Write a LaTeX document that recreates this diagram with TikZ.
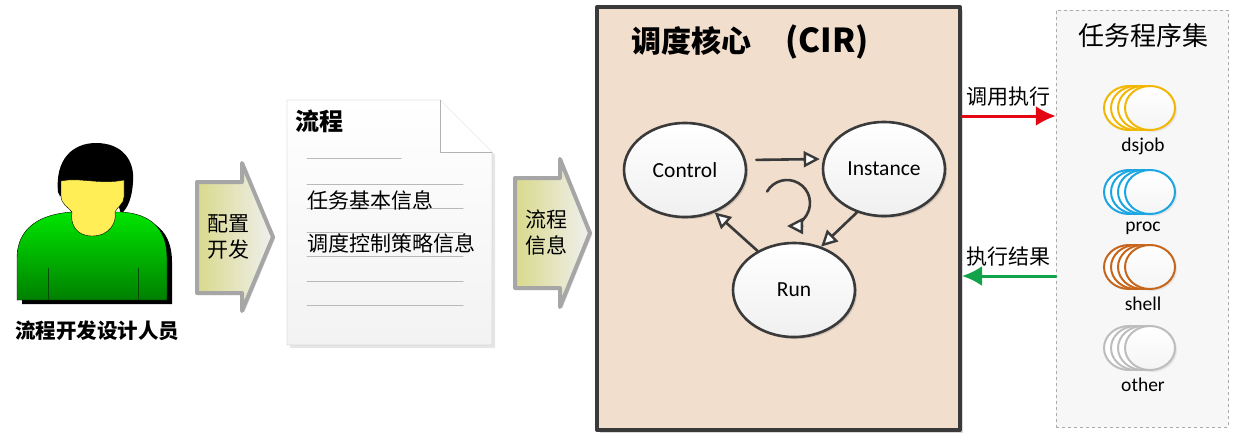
\documentclass[tikz,border=0pt]{standalone}
\usepackage{fontspec}
\setmainfont{Carlito}
\newfontfamily\cjk{Noto Sans CJK SC}
\usetikzlibrary{arrows.meta, shapes.geometric, shadows}

\definecolor{corefill}{HTML}{F1DECD}
\definecolor{coreedge}{HTML}{3A3A3A}
\definecolor{jobyellow}{HTML}{F2B705}
\definecolor{jobblue}{HTML}{1BA6E2}
\definecolor{joborange}{HTML}{C6661C}
\definecolor{jobgray}{HTML}{BDBDBD}
\definecolor{callred}{HTML}{E30613}
\definecolor{backgreen}{HTML}{12A24A}
\definecolor{facey}{HTML}{FFEE55}

\tikzset{
	chevron/.style={draw=gray!70, line width=4pt, left color=olive!30!white, right color=gray!12,
		drop shadow={shadow xshift=2pt, shadow yshift=-2pt, opacity=.25}},
	state/.style={ellipse, draw=coreedge, line width=2.6pt, minimum width=122pt, minimum height=94pt,
		inner sep=0pt, top color=white, bottom color=gray!12, font=\fontsize{21.5}{24}\selectfont,
		drop shadow={shadow xshift=2pt, shadow yshift=-2pt, opacity=.3}},
	flow/.style={draw=coreedge, line width=2.6pt,
		-{Triangle[open, length=16pt, width=16pt, line width=2.4pt, fill=white]}},
	docline/.style={gray!55, line width=1pt},
	cjktext/.style={font=\cjk\fontsize{21}{26}\selectfont, align=center, text=black},
	jobring/.style={ellipse, line width=2pt, minimum width=50pt, minimum height=44pt, inner sep=0pt, fill=white},
	bigarrow/.style={line width=3pt, -{Latex[length=20pt, width=20pt]}},
}

\begin{document}
\begin{tikzpicture}[x=1pt, y=-1pt, >=Latex, line cap=round, line join=round]
\useasboundingbox (0,0) rectangle (1233,432);

%========================
% designer
%========================
% hair
\fill[black] (58,192) .. controls (55,160) and (72,143) .. (96,143)
	.. controls (122,143) and (135,160) .. (133,182)
	.. controls (132,198) and (128,208) .. (121,214) -- (117,200) -- (60,196) -- cycle;
% body + shadow
\fill[black] (22,304) -- (22,262) .. controls (22,232) and (45,218) .. (77,216) -- (127,216)
	.. controls (155,218) and (172,232) .. (172,262) -- (172,304) -- cycle;
\draw[black, thin, top color=green!90!black, bottom color=green!50!black]
	(17,300) -- (17,258) .. controls (17,228) and (40,214) .. (72,212) -- (122,212)
	.. controls (150,214) and (167,228) .. (167,258) -- (167,300) -- cycle;
\draw[green!30!black] (48,268) -- (48,300);
\draw[green!30!black] (138,268) -- (138,300);
% face
\draw[black, thin, fill=facey]
	(61,181) .. controls (80,177) and (100,185) .. (124,180)
	-- (124,197) .. controls (124,204) and (117,207) .. (115,212)
	.. controls (117,222) and (110,236) .. (92,236)
	.. controls (76,236) and (70,224) .. (72,212)
	.. controls (68,207) and (61,204) .. (61,196) -- cycle;
\node[font=\cjk\bfseries\fontsize{20.5}{24}\selectfont] (designer) at (97,331) {流程开发设计人员};

%========================
% config arrow + flow document
%========================
\draw[chevron] (197,182) -- (242,182) -- (242,163) -- (273,237) -- (242,311) -- (242,293) -- (197,293) -- cycle;
\node[cjktext] (cfgtxt) at (228,237) {配置\\开发};

\draw[gray!60, top color=white, bottom color=gray!10,
	drop shadow={shadow xshift=3pt, shadow yshift=-3pt, opacity=.2}]
	(287,100) -- (440,100) -- (492,152) -- (492,345) -- (287,345) -- cycle;
\draw[gray!60, fill=white] (440,100) -- (440,152) -- (492,152);
\draw[docline] (307,158) -- (401,158);
\foreach \y in {184,208,232,256,281,305}
	\draw[docline] (307,\y) -- (463,\y);
\node[font=\cjk\bfseries\fontsize{24}{28}\selectfont, anchor=west] (doctitle) at (292,121) {流程};
\node[cjktext, anchor=west] (item1) at (304,200) {任务基本信息};
\node[cjktext, anchor=west] (item2) at (304,243) {调度控制策略信息};

\draw[chevron] (515,178) -- (560,178) -- (560,159) -- (590,233) -- (560,307) -- (560,288) -- (515,288) -- cycle;
\node[cjktext] (flowtxt) at (546,233) {流程\\信息};

%========================
% scheduling core
%========================
\node[draw=coreedge, line width=4pt, fill=corefill, minimum width=363pt, minimum height=423pt,
	drop shadow={shadow xshift=3pt, shadow yshift=-3pt, opacity=.3}] (core) at (778.5,218.5) {};
\node[font=\cjk\bfseries\fontsize{30}{34}\selectfont, anchor=west] (coretitle) at (628,42)
	{调度核心\hspace{34pt}{\fontsize{33}{36}\selectfont(CIR)}};

\node[state] (ctrl) at (685,170) {Control};
\node[state] (inst) at (884,169) {Instance};
\node[state] (run) at (794,290) {Run};

\draw[flow, shorten <=9pt, shorten >=2pt] ([yshift=10pt]ctrl.east) -- ([yshift=10pt]inst.west);
\draw[flow] (inst.238) -- (run.58);
\draw[flow] (run.133) -- (ctrl.-55);
% self loop
\coordinate (loop) at (787,203);
\draw[flow] (loop) ++(-150:23) arc[start angle=-150, end angle=90, radius=23];

%========================
% task programs
%========================
\node[draw=gray!65, dashed, fill=gray!6, minimum width=172pt, minimum height=417pt] (tasks) at (1142,218.5) {};
\node[font=\cjk\fontsize{26}{30}\selectfont] (taskstitle) at (1143,36) {任务程序集};

\foreach \name/\col/\cy in {dsjob/jobyellow/108, proc/jobblue/192, shell/joborange/267, other/jobgray/348}{
	\foreach \dx in {21,14,7}
		\node[jobring, draw=\col] (\name-\dx) at (1150-\dx,\cy) {};
	\node[jobring, draw=\col, top color=white, bottom color=gray!8,
		drop shadow={shadow xshift=2pt, shadow yshift=-2pt, opacity=.15}] (\name) at (1150,\cy) {};
	\node[font=\fontsize{19.5}{22}\selectfont, anchor=north] (\name-lbl) at ([yshift=-3pt]\name.south -| 1143,0) {\name};
}

\draw[bigarrow, callred] (core.east |- 0,116) -- (tasks.west |- 0,116)
	node[midway, above=5pt, cjktext] (calltxt) {调用执行};
\draw[bigarrow, backgreen] (tasks.west |- 0,276) -- (core.east |- 0,276)
	node[midway, above=5pt, cjktext] (backtxt) {执行结果};

\end{tikzpicture}
\end{document}
